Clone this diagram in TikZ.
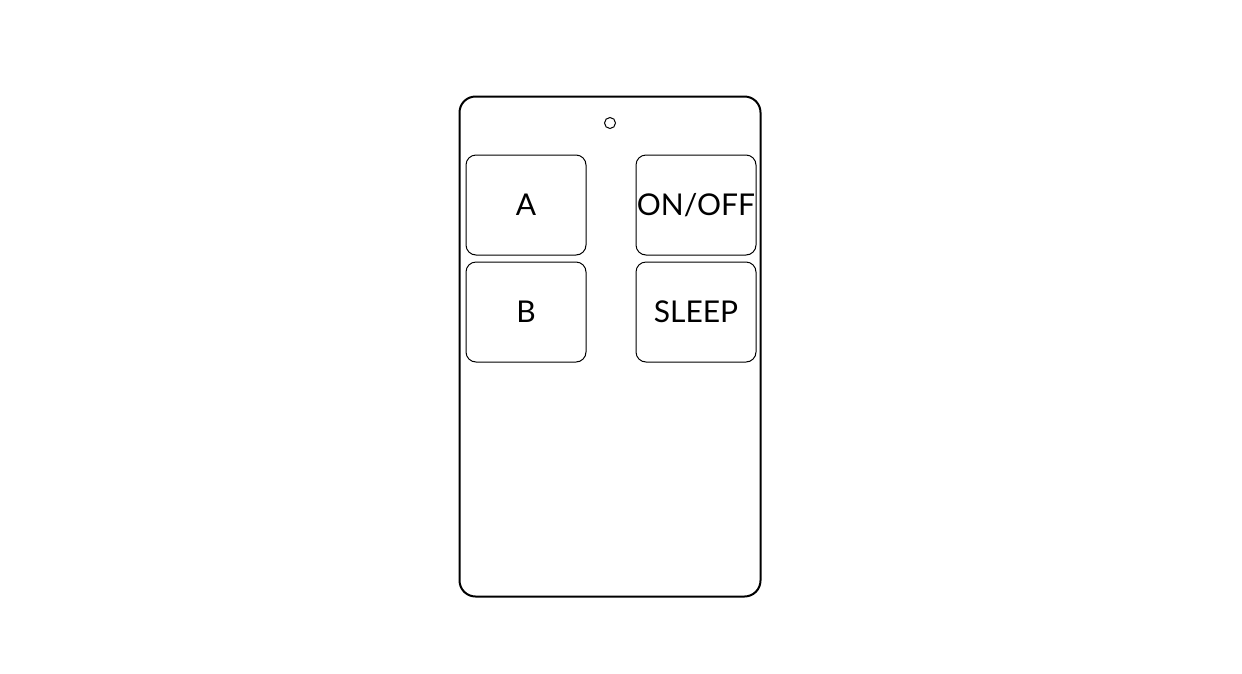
\documentclass[tikz,border=0pt]{standalone}
\usepackage{fontspec}
\setmainfont{Lato}
\usepackage{tikz}
\usetikzlibrary{shapes,positioning}
\tikzstyle{button} = [draw,rectangle,rounded corners=10pt,line width=1pt,minimum width=120pt,minimum height=100pt,inner sep=0pt,font=\fontsize{30}{36}\selectfont]

\begin{document}
\begin{tikzpicture}[x=1pt,y=-1pt]
        \useasboundingbox (0,0) rectangle (1242,673);
        % remote body
        \node[draw,
        rectangle,
        rounded corners=16pt,
        line width=2pt,
        minimum width=301pt,
        minimum height=500pt] (remote) at (610,346.5) {};

        % led
        \node[draw,
        circle,
        line width=1pt,
        minimum size=11pt,
        inner sep=0pt] (led) at (610,123) {};

        % buttons
        \node[button] (btnA) at (526,205) {A};

        \node[button,
        below=6pt of btnA] (btnB) {B};

        \node[button,
        right=49pt of btnA] (btnOnOff) {ON/OFF};

        \node[button,
        below=6pt of btnOnOff] (btnSleep) {SLEEP};

\end{tikzpicture}
\end{document}
